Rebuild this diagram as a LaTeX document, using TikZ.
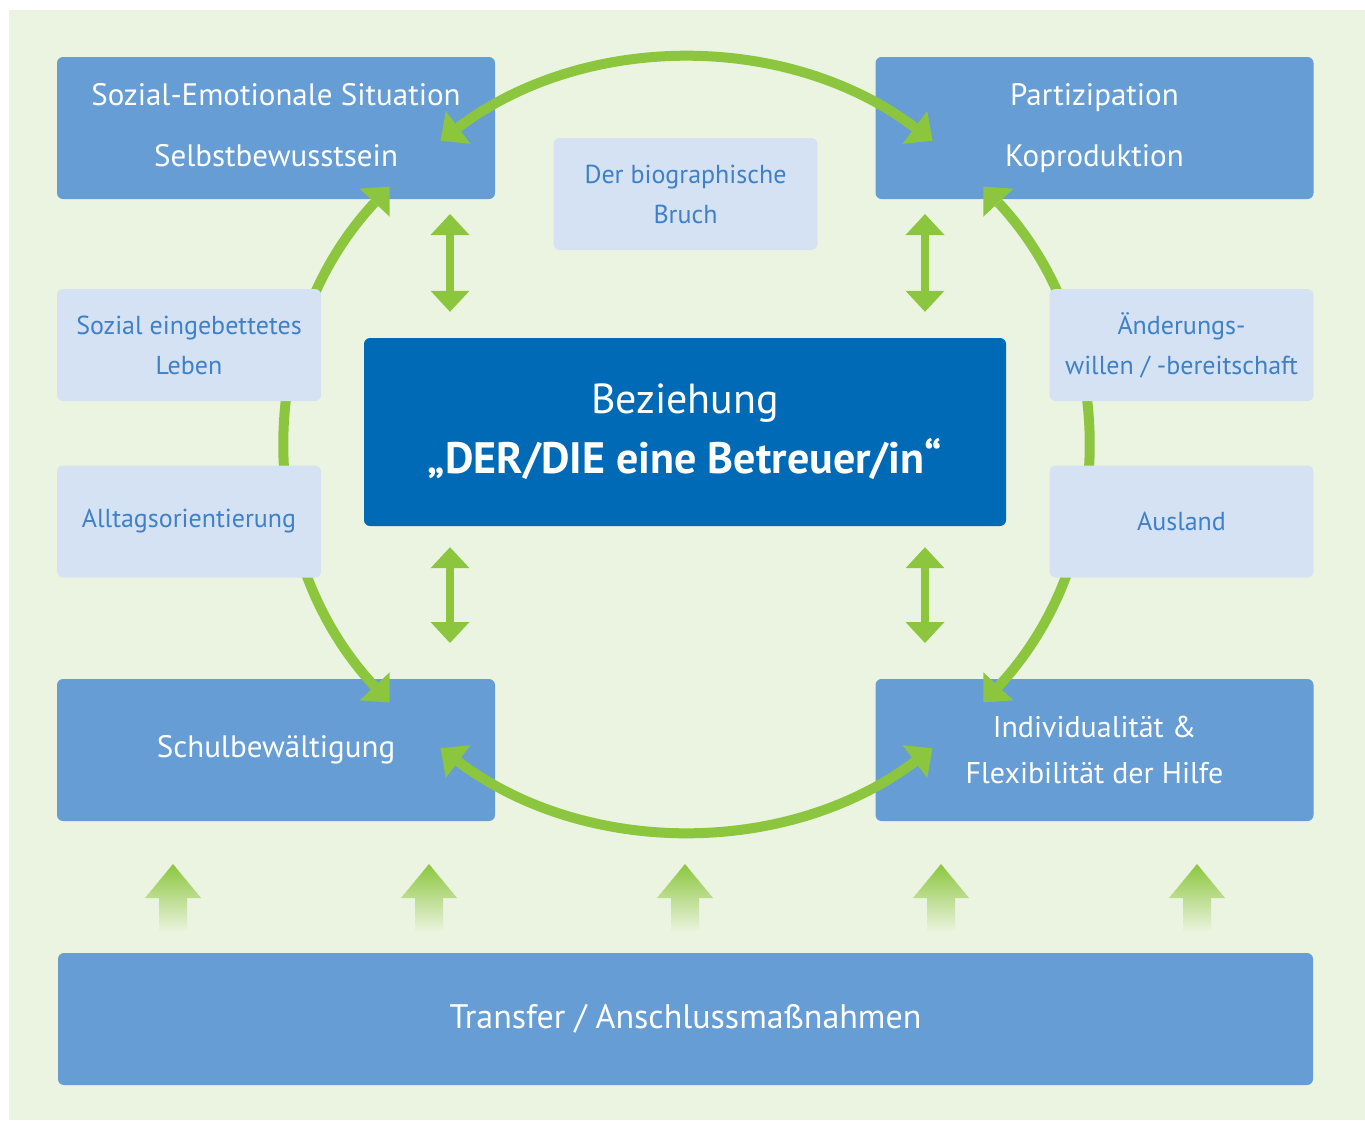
\documentclass[tikz,border=0pt]{standalone}
\usepackage{fontspec}
\setmainfont{PT Sans}
\usetikzlibrary{arrows.meta}
\definecolor{bggreen}{HTML}{EBF4E0}
\definecolor{boxblue}{HTML}{659DD4}
\definecolor{deepblue}{HTML}{006AB6}
\definecolor{paleblue}{HTML}{D4E2F3}
\definecolor{textblue}{HTML}{3F80C6}
\definecolor{ringgreen}{HTML}{8CC63F}

\begin{document}
\begin{tikzpicture}[x=1pt, y=1pt,
    topic/.style={rectangle, fill=boxblue, rounded corners=6pt, text=white, align=center,
        minimum width=438pt, minimum height=142pt, inner sep=0pt, outer sep=0pt,
        font=\fontsize{31}{61}\selectfont},
    aspect/.style={rectangle, fill=paleblue, rounded corners=6pt, text=textblue, align=center,
        minimum width=264pt, minimum height=112pt, inner sep=0pt, outer sep=0pt,
        font=\fontsize{26}{40}\selectfont},
    ring/.style={ringgreen, line width=10pt,
        {Triangle[length=22pt,width=41pt,line width=0pt]}-{Triangle[length=22pt,width=41pt,line width=0pt]}},
    link/.style={ringgreen, line width=8pt,
        {Triangle[length=21pt,width=39pt,line width=0pt]}-{Triangle[length=21pt,width=39pt,line width=0pt]}},
    uparrow/.style={top color=ringgreen, bottom color=bggreen}
]
    \useasboundingbox (0,0) rectangle (1365,-1120);
    \fill[white] (0,0) rectangle (1365,-1120);
    \fill[bggreen] (9,-10) rectangle (1365,-1120);

    % blue corner boxes
    \node[topic] (sel) at (276,-128) {Sozial-Emotionale Situation\\Selbstbewusstsein\vphantom{g}};
    \node[topic] (par) at (1094.5,-128) {Partizipation\\Koproduktion};
    \node[topic] (sch) at (276,-750) {Schulbewältigung};
    \node[topic, font=\fontsize{30}{46}\selectfont] (ind) at (1094.5,-750) {Individualität \&\\Flexibilität der Hilfe};

    % green ring
    \coordinate (rc) at (686.5,-444.5);
    \draw[ring] ([shift={(128:399.5 and 385.5)}]rc) arc[start angle=128, end angle=52, x radius=399.5, y radius=385.5];
    \draw[ring] ([shift={(138:399.5 and 385.5)}]rc) arc[start angle=138, end angle=222, x radius=399.5, y radius=385.5];
    \draw[ring] ([shift={(232:399.5 and 385.5)}]rc) arc[start angle=232, end angle=308, x radius=399.5, y radius=385.5];
    \draw[ring] ([shift={(318:399.5 and 385.5)}]rc) arc[start angle=318, end angle=402, x radius=399.5, y radius=385.5];

    % pale boxes
    \node[aspect] (bru) at (685.5,-194) {Der biographische\\Bruch};
    \node[aspect] (leb) at (189,-345) {Sozial eingebettetes\\Leben};
    \node[aspect] (all) at (189,-521.5) {Alltagsorientierung};
    \node[aspect] (aen) at (1181.5,-345) {Änderungs-\\willen / -bereitschaft};
    \node[aspect] (aus) at (1181.5,-521.5) {Ausland};

    % centre
    \node[rectangle, fill=deepblue, rounded corners=6pt, text=white, align=center,
        minimum width=642pt, minimum height=188pt, inner sep=0pt,
        font=\fontsize{42}{60}\selectfont] (bez) at (685,-432)
        {Beziehung\\{\bfseries\fontsize{44}{60}\selectfont „DER/DIE eine Betreuer/in“}};

    \coordinate (lx) at (450,0);
    \coordinate (rx) at (925,0);
    \draw[link, shorten <=15pt, shorten >=26pt] (sel.south -| lx) -- (bez.north -| lx);
    \draw[link, shorten <=15pt, shorten >=26pt] (par.south -| rx) -- (bez.north -| rx);
    \draw[link, shorten <=21pt, shorten >=36pt] (bez.south -| lx) -- (sch.north -| lx);
    \draw[link, shorten <=21pt, shorten >=36pt] (bez.south -| rx) -- (ind.north -| rx);

    % transfer
    \node[rectangle, fill=boxblue, rounded corners=6pt, text=white, minimum width=1255pt,
        minimum height=132pt, inner sep=0pt, font=\fontsize{34}{40}\selectfont] (tra) at (685.5,-1019)
        {Transfer / Anschlussmaßnahmen};
    \foreach \x in {173,429,685,941,1197}
        \path[uparrow] (\x,-864) -- (\x+28,-898) -- (\x+14,-898) -- (\x+14,-932)
            -- (\x-14,-932) -- (\x-14,-898) -- (\x-28,-898) -- cycle;
\end{tikzpicture}
\end{document}
